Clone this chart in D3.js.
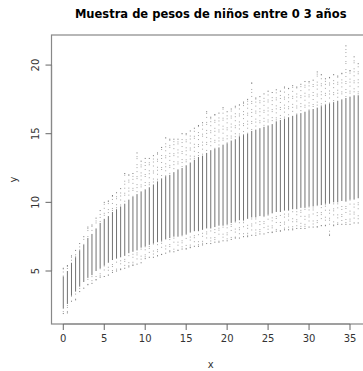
<!DOCTYPE html>
<html>
<head>
<meta charset="utf-8">
<script src="https://cdn.jsdelivr.net/npm/d3@7"></script>
<style>
  body { margin: 0; background: #fff; }
  text { font-family: "DejaVu Sans", sans-serif; }
</style>
</head>
<body>
<div id="chart"></div>
<script>
// edad en meses (una franja cada medio mes)
var months = [0, 0.5, 1, 1.5, 2, 2.5, 3, 3.5, 4, 4.5, 5, 5.5, 6, 6.5, 7, 7.5, 8, 8.5, 9, 9.5,
  10, 10.5, 11, 11.5, 12, 12.5, 13, 13.5, 14, 14.5, 15, 15.5, 16, 16.5, 17, 17.5, 18, 18.5, 19, 19.5,
  20, 20.5, 21, 21.5, 22, 22.5, 23, 23.5, 24, 24.5, 25, 25.5, 26, 26.5, 27, 27.5, 28, 28.5, 29, 29.5,
  30, 30.5, 31, 31.5, 32, 32.5, 33, 33.5, 34, 34.5, 35, 35.5, 36];
// peso minimo observado
var minW = [1.9, 1.95, 2.8, 2.9, 3.5, 3.75, 4.0, 4.1, 4.35, 4.55, 4.6, 4.7, 4.9, 5.0, 5.1, 5.2, 5.3, 5.4, 5.5, 5.6,
  5.9, 6.0, 6.0, 6.1, 6.2, 6.3, 6.4, 6.4, 6.5, 6.6, 6.6, 6.7, 6.8, 6.8, 6.9, 7.0, 7.0, 7.1, 7.1, 7.2,
  7.2, 7.3, 7.4, 7.4, 7.5, 7.5, 7.6, 7.6, 7.7, 7.7, 7.8, 7.8, 7.9, 7.9, 8.0, 8.0, 8.0, 8.1, 8.1, 8.1,
  8.2, 8.2, 8.2, 8.3, 8.3, 7.6, 8.3, 8.4, 8.4, 8.4, 8.4, 8.5, 8.5];
// limite inferior de la zona densa
var loW = [2.3, 2.6, 3.2, 3.5, 3.9, 4.2, 4.5, 4.7, 5.0, 5.2, 5.4, 5.6, 5.8, 5.9, 6.0, 6.1, 6.3, 6.4, 6.5, 6.7,
  6.8, 6.9, 7.0, 7.1, 7.2, 7.3, 7.4, 7.5, 7.5, 7.6, 7.7, 7.8, 7.9, 7.9, 8.0, 8.1, 8.1, 8.2, 8.3, 8.3,
  8.4, 8.5, 8.6, 8.7, 8.7, 8.8, 8.9, 8.9, 9.0, 9.0, 9.1, 9.2, 9.3, 9.3, 9.4, 9.4, 9.5, 9.5, 9.6, 9.6,
  9.7, 9.7, 9.8, 9.8, 9.9, 9.9, 10.0, 10.0, 10.1, 10.1, 10.2, 10.2, 10.3];
// limite superior de la zona densa
var hiW = [4.6, 5.0, 5.6, 6.0, 6.5, 6.9, 7.4, 7.7, 8.1, 8.5, 8.8, 9.0, 9.3, 9.5, 9.7, 9.9, 10.2, 10.4, 10.6, 10.8,
  10.9, 11.1, 11.3, 11.5, 11.7, 11.9, 12.0, 12.2, 12.4, 12.5, 12.7, 12.9, 13.1, 13.3, 13.4, 13.6, 13.8, 13.9, 14.0, 14.2,
  14.3, 14.5, 14.6, 14.8, 14.9, 15.0, 15.2, 15.3, 15.4, 15.5, 15.6, 15.7, 15.9, 16.0, 16.1, 16.2, 16.3, 16.4, 16.5, 16.6,
  16.7, 16.8, 16.9, 17.0, 17.1, 17.2, 17.3, 17.4, 17.5, 17.6, 17.7, 17.8, 17.8];
// peso maximo observado
var maxW = [5.2, 5.4, 6.1, 6.5, 7.0, 7.5, 8.2, 8.35, 8.85, 9.4, 10.0, 10.1, 10.5, 10.7, 11.0, 12.1, 12.0, 12.1, 13.6, 13.0,
  13.2, 13.2, 13.4, 13.6, 14.0, 14.7, 14.6, 14.6, 14.6, 15.0, 15.0, 15.2, 15.4, 15.6, 15.8, 16.6, 16.2, 16.4, 16.5, 16.9,
  16.6, 16.8, 17.0, 17.1, 17.3, 17.5, 18.7, 17.6, 17.7, 17.9, 18.1, 18.0, 18.2, 18.1, 18.4, 18.3, 18.5, 18.4, 18.6, 18.8,
  18.8, 18.9, 19.5, 19.3, 19.0, 19.1, 19.3, 19.2, 19.4, 21.4, 19.6, 20.6, 20.1];

var xTicks = [0, 5, 10, 15, 20, 25, 30, 35];
var yTicks = [5, 10, 15, 20];

var width = 363, height = 371;
var plotLeft = 51.5, plotRight = 370, plotTop = 35, plotBottom = 324;

var svg = d3.select("#chart").append("svg")
  .attr("width", width)
  .attr("height", height);

// R amplía el rango de datos un 4% por cada lado
var x = d3.scaleLinear().domain([-1.44, 37.44]).range([plotLeft, plotRight]);
var y = d3.scaleLinear().domain([1.14, 22.19]).range([plotBottom, plotTop]);

var stripes = months.map((m, i) => ({ i: i, m: m, min: minW[i], lo: loW[i], hi: hiW[i], max: maxW[i] }));

svg.append("clipPath").attr("id", "clip")
  .append("rect")
  .attr("x", plotLeft).attr("y", plotTop)
  .attr("width", plotRight - plotLeft).attr("height", plotBottom - plotTop);
var dots = svg.append("g").attr("clip-path", "url(#clip)");

var g = dots.selectAll("g").data(stripes).enter().append("g");

// colas dispersas (desfase distinto por franja para no formar bandas)
g.append("line")
  .attr("x1", d => x(d.m)).attr("x2", d => x(d.m))
  .attr("y1", d => y(d.lo)).attr("y2", d => y(d.min))
  .attr("stroke", "#888")
  .attr("stroke-width", 1)
  .attr("stroke-dasharray", "1 2 1 4 1 1 1 3 1 6")
  .attr("stroke-dashoffset", d => (d.i * 7) % 20)
  .attr("opacity", 0.75);
g.append("line")
  .attr("x1", d => x(d.m)).attr("x2", d => x(d.m))
  .attr("y1", d => y(d.hi)).attr("y2", d => y(d.max))
  .attr("stroke", "#888")
  .attr("stroke-width", 1)
  .attr("stroke-dasharray", "1 3 1 2 1 5 1 1 1 4")
  .attr("stroke-dashoffset", d => (d.i * 11) % 20)
  .attr("opacity", 0.75);
// zona densa
g.append("line")
  .attr("x1", d => x(d.m)).attr("x2", d => x(d.m))
  .attr("y1", d => y(d.lo)).attr("y2", d => y(d.hi))
  .attr("stroke", "#737373")
  .attr("stroke-width", 1);
// puntos extremos
g.append("rect")
  .attr("x", d => x(d.m) - 0.5).attr("y", d => y(d.max) - 0.5)
  .attr("width", 1).attr("height", 1).attr("fill", "#777");
g.append("rect")
  .attr("x", d => x(d.m) - 0.5).attr("y", d => y(d.min) - 0.5)
  .attr("width", 1).attr("height", 1).attr("fill", "#777");

// caja
svg.append("rect")
  .attr("x", plotLeft).attr("y", plotTop)
  .attr("width", plotRight - plotLeft).attr("height", plotBottom - plotTop)
  .attr("fill", "none").attr("stroke", "#888").attr("stroke-width", 1.2);

// eje x
var xAxis = svg.append("g").attr("transform", `translate(0, ${plotBottom})`);
xAxis.append("line")
  .attr("x1", x(0)).attr("x2", x(35))
  .attr("stroke", "#888").attr("stroke-width", 1.2);
var xt = xAxis.selectAll("g").data(xTicks).enter().append("g")
  .attr("transform", d => `translate(${x(d)}, 0)`);
xt.append("line").attr("y2", 6).attr("stroke", "#666");
xt.append("text")
  .attr("y", 18)
  .attr("text-anchor", "middle")
  .attr("font-size", 10)
  .attr("fill", "#333")
  .text(d => d);

// eje y
var yAxis = svg.append("g").attr("transform", `translate(${plotLeft}, 0)`);
yAxis.append("line")
  .attr("y1", y(5)).attr("y2", y(20))
  .attr("stroke", "#888").attr("stroke-width", 1.2);
var yt = yAxis.selectAll("g").data(yTicks).enter().append("g")
  .attr("transform", d => `translate(0, ${y(d)})`);
yt.append("line").attr("x2", -6).attr("stroke", "#666");
yt.append("text")
  .attr("transform", "translate(-13, 0) rotate(-90)")
  .attr("text-anchor", "middle")
  .attr("font-size", 10)
  .attr("fill", "#333")
  .text(d => d);

// titulos
svg.append("text")
  .attr("x", (plotLeft + plotRight) / 2)
  .attr("y", 18)
  .attr("text-anchor", "middle")
  .attr("font-size", 11.5)
  .attr("font-weight", "bold")
  .attr("fill", "#000")
  .text("Muestra de pesos de niños entre 0 3 años");
svg.append("text")
  .attr("x", (plotLeft + plotRight) / 2)
  .attr("y", 368)
  .attr("text-anchor", "middle")
  .attr("font-size", 10)
  .attr("fill", "#333")
  .text("x");
svg.append("text")
  .attr("transform", `translate(17, ${(plotTop + plotBottom) / 2}) rotate(-90)`)
  .attr("text-anchor", "middle")
  .attr("font-size", 10)
  .attr("fill", "#333")
  .text("y");
</script>
</body>
</html>
